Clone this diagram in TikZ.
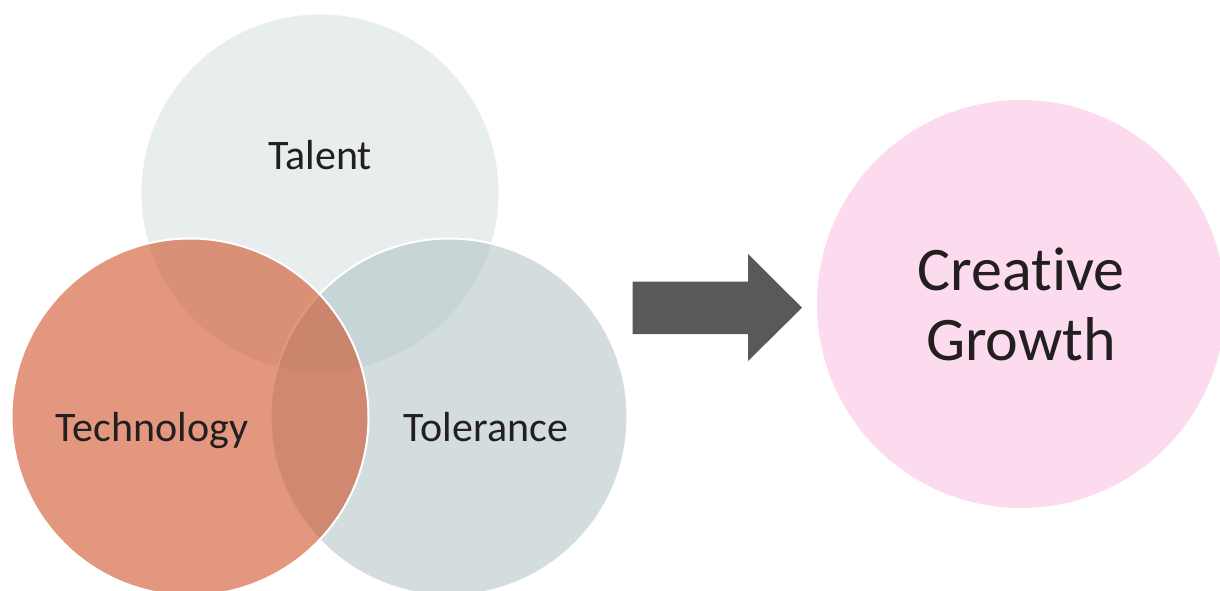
\documentclass[tikz,border=0pt]{standalone}
\usepackage{fontspec}
\setmainfont{Carlito}[Ligatures=NoCommon]
\definecolor{talentc}{HTML}{E8EEEE}
\definecolor{tolc}{RGB}{175,193,195}
\definecolor{techc}{RGB}{208,76,34}
\definecolor{cgc}{HTML}{FDDBEF}
\definecolor{arrowc}{HTML}{595959}
\definecolor{txt}{HTML}{231F20}
\begin{document}
\begin{tikzpicture}[x=1pt,y=-1pt,
  venn/.style={circle,inner sep=0pt,minimum size=357pt},
  lbl/.style={font=\fontsize{42}{50}\selectfont,text=txt,inner sep=0pt,anchor=base}]
\useasboundingbox (0,0) rectangle (1220,591);
\node[venn,fill=talentc] (talent) at (320,193) {};
\node[venn,fill=tolc,fill opacity=0.55,draw=white,line width=2pt] (tol) at (449,417) {};
\node[venn,fill=techc,fill opacity=0.58,draw=white,line width=2pt] (tech) at (190,417) {};
\node[lbl] (talentlbl) at (320,169) {Talent};
\node[lbl] (techlbl) at (152,441.5) {Technology};
\node[lbl] (tollbl) at (486,441.5) {Tolerance};
\fill[arrowc] (632.7,281.7) -- (748,281.7) -- (748,254) -- (802,307.7) -- (748,361) -- (748,334) -- (632.7,334) -- cycle;
\node[circle,fill=cgc,minimum size=408pt,inner sep=0pt,align=center,
  font=\fontsize{62}{70}\selectfont,text=txt] (cg) at (1021,304) {Creative\\Growth};
\end{tikzpicture}
\end{document}
